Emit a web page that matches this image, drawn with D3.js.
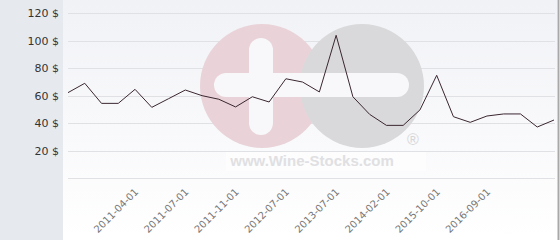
<!DOCTYPE html>
<html>
<head>
<meta charset="utf-8">
<script src="https://cdn.jsdelivr.net/npm/d3@7"></script>
<style>
  html, body { margin: 0; padding: 0; background: #fff; }
  svg { display: block; font-family: "DejaVu Sans", sans-serif; }
</style>
</head>
<body>
<div id="chart"></div>
<script>
// categories (only every third one is labelled on the axis)
const dates = [
    "2010-12-01", "2011-01-01", "2011-02-01", "2011-03-01", "2011-04-01",
    "2011-05-01", "2011-06-01", "2011-07-01", "2011-08-01", "2011-10-01",
    "2011-11-01", "2012-01-01", "2012-04-01", "2012-07-01", "2012-10-01",
    "2013-03-01", "2013-07-01", "2013-10-01", "2013-12-01", "2014-02-01",
    "2014-06-01", "2015-01-01", "2015-10-01", "2016-01-01", "2016-05-01",
    "2016-09-01", "2017-01-01", "2017-06-01", "2017-10-01", "2018-03-01"
];
const prices = [
    62.3, 69.1, 54.5, 54.5, 64.7, 51.6, 57.9, 64.2, 60.1, 57.5,
    51.9, 59.3, 55.5, 72.4, 70.0, 62.8, 104, 59.3, 46.5, 38.5,
    38.5, 49.7, 74.9, 44.8, 40.7, 45.3, 46.8, 46.8, 37.3, 42.4
];
const labelledDates = ["2011-04-01", "2011-07-01", "2011-11-01", "2012-07-01",
    "2013-07-01", "2014-02-01", "2015-10-01", "2016-09-01"];
const yTicks = [20, 40, 60, 80, 100, 120];

const width = 560, height = 240;
const plot = { left: 63, right: 557 };

const svg = d3.select("#chart").append("svg")
    .attr("width", width)
    .attr("height", height);

// background: grey label panel + light gradient plot area
const defs = svg.append("defs");
const grad = defs.append("linearGradient")
    .attr("id", "bg").attr("x1", 0).attr("y1", 0).attr("x2", 0).attr("y2", 1);
grad.append("stop").attr("offset", "0%").attr("stop-color", "#f1f2f6");
grad.append("stop").attr("offset", "100%").attr("stop-color", "#ffffff");

svg.append("rect").attr("x", 0).attr("y", 0).attr("width", plot.left).attr("height", height)
    .attr("fill", "#e6eaee");
svg.append("rect").attr("x", plot.left).attr("y", 0).attr("width", plot.right - plot.left).attr("height", height)
    .attr("fill", "url(#bg)");
svg.append("line").attr("x1", 558.5).attr("x2", 558.5).attr("y1", 0).attr("y2", height)
    .attr("stroke", "#a8a8a8").attr("stroke-width", 2);

// scales
const x = d3.scalePoint().domain(dates).range([68, 554]);
const y = d3.scaleLinear().domain([0, 120]).range([178.3, 13.3]);

// grid
svg.append("g")
    .selectAll("line")
    .data([0].concat(yTicks))
    .join("line")
    .attr("x1", 68).attr("x2", 555)
    .attr("y1", d => Math.round(y(d)) + 0.5)
    .attr("y2", d => Math.round(y(d)) + 0.5)
    .attr("stroke", "#e0e1e5");

// watermark
const wm = svg.append("g");
wm.append("circle").attr("cx", 262).attr("cy", 86).attr("r", 62).attr("fill", "#e9d3d8");
wm.append("circle").attr("cx", 362).attr("cy", 86).attr("r", 62).attr("fill", "#d9d9db");
wm.append("rect").attr("x", 249).attr("y", 38).attr("width", 24).attr("height", 97).attr("rx", 12)
    .attr("fill", "#f8f8fa");
wm.append("rect").attr("x", 214).attr("y", 73).attr("width", 195).attr("height", 24).attr("rx", 12)
    .attr("fill", "#f8f8fa");
wm.append("rect").attr("x", 226).attr("y", 152).attr("width", 200).attr("height", 19)
    .attr("fill", "#fdfdfd");
wm.append("text").attr("x", 312).attr("y", 166).attr("text-anchor", "middle")
    .attr("font-family", "Liberation Sans, Arial, sans-serif")
    .attr("font-weight", "bold").attr("font-size", 15)
    .attr("fill", "#e0e0e3")
    .text("www.Wine-Stocks.com");
wm.append("text").attr("x", 413).attr("y", 145).attr("text-anchor", "middle")
    .attr("font-family", "Liberation Sans, Arial, sans-serif")
    .attr("font-size", 16).attr("fill", "#d6d6d8")
    .text("®");

// price line
const line = d3.line()
    .x((d, i) => x(dates[i]))
    .y(d => y(d));

svg.append("path")
    .datum(prices)
    .attr("fill", "none")
    .attr("stroke", "#3a2630")
    .attr("stroke-width", 1)
    .attr("d", line);

// y axis labels
const yAxis = d3.axisLeft(y).tickValues(yTicks).tickSize(0).tickPadding(0)
    .tickFormat(d => d + " $");
svg.append("g")
    .attr("transform", "translate(59,0)")
    .call(yAxis)
    .call(g => g.select(".domain").remove())
    .selectAll("text")
    .attr("font-size", 11)
    .attr("font-family", "DejaVu Sans, sans-serif")
    .attr("fill", "#333");

// x axis labels
const xAxis = d3.axisBottom(x).tickValues(labelledDates).tickSize(0).tickPadding(0);
svg.append("g")
    .attr("transform", "translate(0,190)")
    .call(xAxis)
    .call(g => g.select(".domain").remove())
    .selectAll("text")
    .attr("font-size", 10)
    .attr("font-family", "DejaVu Sans, sans-serif")
    .attr("fill", "#777")
    .attr("text-anchor", "end")
    .attr("dy", "0.35em")
    .attr("transform", "translate(1,0) rotate(-45)");
</script>
</body>
</html>
